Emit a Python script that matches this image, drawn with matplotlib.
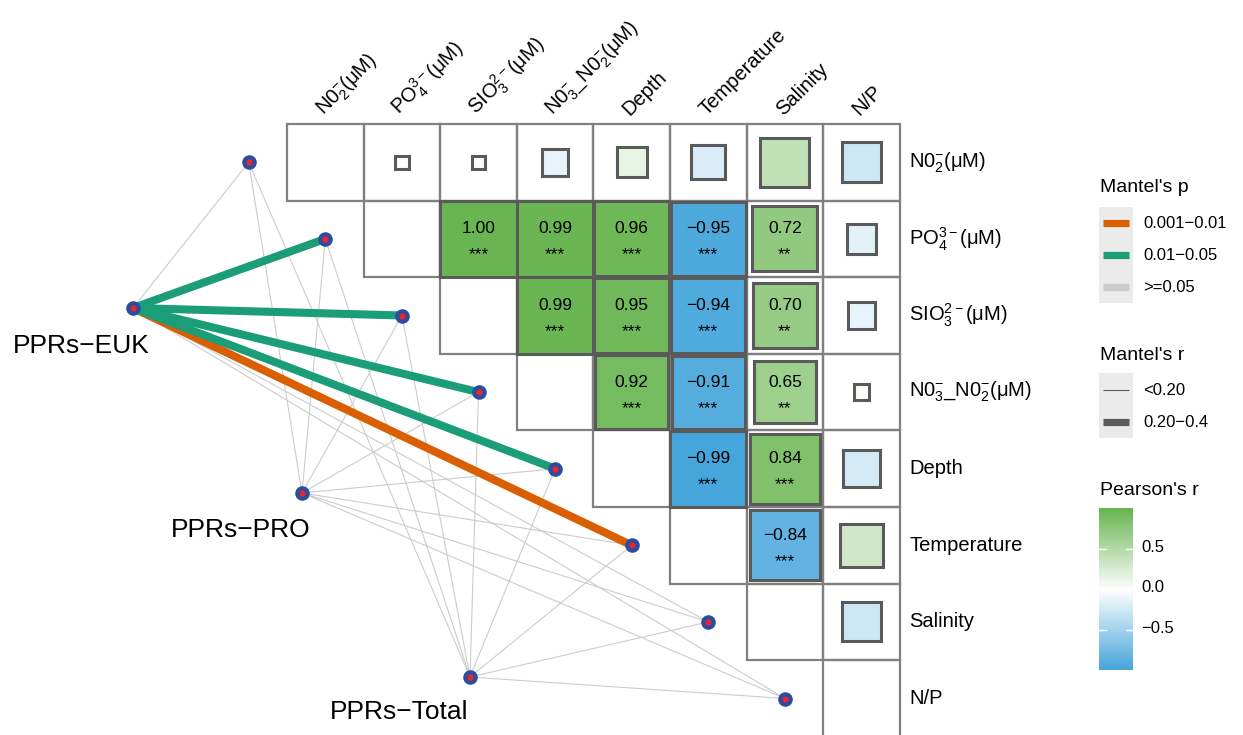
import matplotlib.pyplot as plt
import numpy as np
from matplotlib.colors import LinearSegmentedColormap, Normalize
from matplotlib.patches import Rectangle

plt.rcParams['font.family'] = ['Liberation Sans', 'DejaVu Sans']
plt.rcParams['mathtext.fontset'] = 'custom'
plt.rcParams['mathtext.rm'] = 'Liberation Sans'
plt.rcParams['mathtext.it'] = 'Liberation Sans:italic'
plt.rcParams['mathtext.bf'] = 'Liberation Sans:bold'

# ---- data ----
env_names = ['N0$_2^{-}$(μM)', 'PO$_4^{3-}$(μM)', 'SIO$_3^{2-}$(μM)',
             'N0$_3^{-}$_N0$_2^{-}$(μM)', 'Depth', 'Temperature', 'Salinity', 'N/P']

# upper triangle of Pearson's r, row i holds columns i+1 .. 7
pearson_r = [
    [0.03, 0.03, -0.12, 0.15, -0.20, 0.41, -0.27],
    [1.00, 0.99, 0.96, -0.95, 0.72, -0.15],
    [0.99, 0.95, -0.94, 0.70, -0.12],
    [0.92, -0.91, 0.65, 0.04],
    [-0.99, 0.84, -0.23],
    [-0.84, 0.32],
    [-0.26],
]
pearson_stars = [
    ['', '', '', '', '', '', ''],
    ['***', '***', '***', '***', '**', ''],
    ['***', '***', '***', '**', ''],
    ['***', '***', '**', ''],
    ['***', '***', ''],
    ['***', ''],
    [''],
]

species = ['PPRs\u2212EUK', 'PPRs\u2212PRO', 'PPRs\u2212Total']
p_labels = ['0.001\u22120.01', '0.01\u22120.05', '>=0.05']
r_labels = ['<0.20', '0.20\u22120.4']
# Mantel p class (index into p_labels) and r class (index into r_labels), per env variable
mantel_p = [
    [2, 1, 1, 1, 1, 0, 2, 2],
    [2, 2, 2, 2, 2, 2, 2, 2],
    [2, 2, 2, 2, 2, 2, 2, 2],
]
mantel_r = [
    [0, 1, 1, 1, 1, 1, 0, 0],
    [0, 0, 0, 0, 0, 0, 0, 0],
    [0, 0, 0, 0, 0, 0, 0, 0],
]

# ---- styles / layout ----
p_colors = ['#D95F02', '#1B9E77', '#CCCCCC']
r_widths = [0.8, 5.8]
CELL = 76.6
X0, Y0 = 287, 124
W, H = 1243, 735


def dx(px):
    return (px - X0) / CELL


def dy(py):
    return (py - Y0) / CELL


species_pos = [(dx(133), dy(308)), (dx(302), dy(493)), (dx(470), dy(677))]
label_pos = [(dx(81), dy(346)), (dx(241), dy(530)), (dx(399), dy(712))]

cmap = LinearSegmentedColormap.from_list('pr', ['#45A5DB', '#FFFFFF', '#69B551'])
norm = Normalize(-1, 1)

fig = plt.figure(figsize=(W / 100, H / 100), dpi=100)
ax = fig.add_axes([0, 0, 1, 1])
ax.set_xlim(dx(0), dx(W))
ax.set_ylim(dy(H), dy(0))
ax.axis('off')

n = len(env_names)

# grid
for i in range(n):
    for j in range(i, n):
        ax.add_patch(Rectangle((j, i), 1, 1, fill=False, ec='#808080', lw=1.6, zorder=3))

# correlation squares
for i in range(n - 1):
    for k, r in enumerate(pearson_r[i]):
        j = i + 1 + k
        s = np.sqrt(abs(r))
        cx, cy = j + 0.5, i + 0.5
        ax.add_patch(Rectangle((cx - s / 2, cy - s / 2), s, s, fc=cmap(norm(r)),
                               ec='#5A5A5A', lw=2.2, zorder=4))
        st = pearson_stars[i][k]
        if st:
            ax.text(cx, cy - 0.13, f'{r:.2f}'.replace('-', '\u2212'), ha='center', va='center',
                    fontsize=12.5, zorder=6)
            ax.text(cx, cy + 0.21, st, ha='center', va='center', fontsize=12.5, zorder=6)

# env labels
for i, name in enumerate(env_names):
    ax.text(dx(909), i + 0.5, name, ha='left', va='center', fontsize=14.5)
    ax.text(i + 0.5 - 2 / CELL, dy(116), name, ha='left', va='baseline', rotation=45,
            rotation_mode='anchor', fontsize=14.5)

# mantel edges
env_pos = [(i - 0.5, i + 0.5) for i in range(n)]
for s_idx, (sx, sy) in enumerate(species_pos):
    for e_idx, (ex, ey) in enumerate(env_pos):
        rc = mantel_r[s_idx][e_idx]
        pc = mantel_p[s_idx][e_idx]
        ax.plot([sx, ex], [sy, ey], color=p_colors[pc], lw=r_widths[rc],
                solid_capstyle='butt', zorder=1 + rc + 0.1 * pc)

all_nodes = species_pos + env_pos
nx = [p[0] for p in all_nodes]
ny = [p[1] for p in all_nodes]
ax.scatter(nx, ny, s=110, color='#2C4C9F', lw=0, zorder=7)
ax.scatter(nx, ny, s=20, color='#E8262B', lw=0, zorder=8)

for name, (lx, ly) in zip(species, label_pos):
    ax.text(lx, ly, name, ha='center', va='center', fontsize=19)

# legends
def key_bg(y_top, y_bot):
    ax.add_patch(Rectangle((dx(1099), dy(y_top)), dx(1133) - dx(1099), dy(y_bot) - dy(y_top),
                           fc='#EBEBEB', ec='none', zorder=2))


ax.text(dx(1100), dy(188), "Mantel's p", ha='left', va='center', fontsize=14)
key_bg(207, 303)
for k, (lab, col) in enumerate(zip(p_labels, p_colors)):
    yy = dy(223 + 32 * k)
    ax.plot([dx(1103), dx(1129)], [yy, yy], color=col, lw=5.2, solid_capstyle='butt', zorder=3)
    ax.text(dx(1143), yy, lab, ha='left', va='center', fontsize=12)

ax.text(dx(1100), dy(355), "Mantel's r", ha='left', va='center', fontsize=14)
key_bg(373, 438)
for k, (lab, lw) in enumerate(zip(r_labels, [0.8, 5.2])):
    yy = dy(390 + 32 * k)
    ax.plot([dx(1103), dx(1129)], [yy, yy], color='#5C5C5C', lw=lw, solid_capstyle='butt', zorder=3)
    ax.text(dx(1143), yy, lab, ha='left', va='center', fontsize=12)

ax.text(dx(1100), dy(490), "Pearson's r", ha='left', va='center', fontsize=14)
cax = fig.add_axes([1099 / W, 1 - 670 / H, 34 / W, 162 / H])
grad = np.linspace(-0.99, 1.0, 256).reshape(-1, 1)
cax.imshow(grad, cmap=cmap, norm=norm, aspect='auto', origin='lower', extent=[0, 1, -0.99, 1.0])
cax.set_xlim(0, 1)
cax.set_ylim(-0.99, 1.0)
cax.axis('off')
for t in (0.5, 0.0, -0.5):
    cax.plot([0, 0.2], [t, t], color='white', lw=1)
    cax.plot([0.8, 1], [t, t], color='white', lw=1)
    ax.text(dx(1141), dy(588 - 81 * t), f'{t:.1f}'.replace('-', '\u2212'), ha='left', va='center',
            fontsize=12)

fig.savefig('out.png', dpi=100)
